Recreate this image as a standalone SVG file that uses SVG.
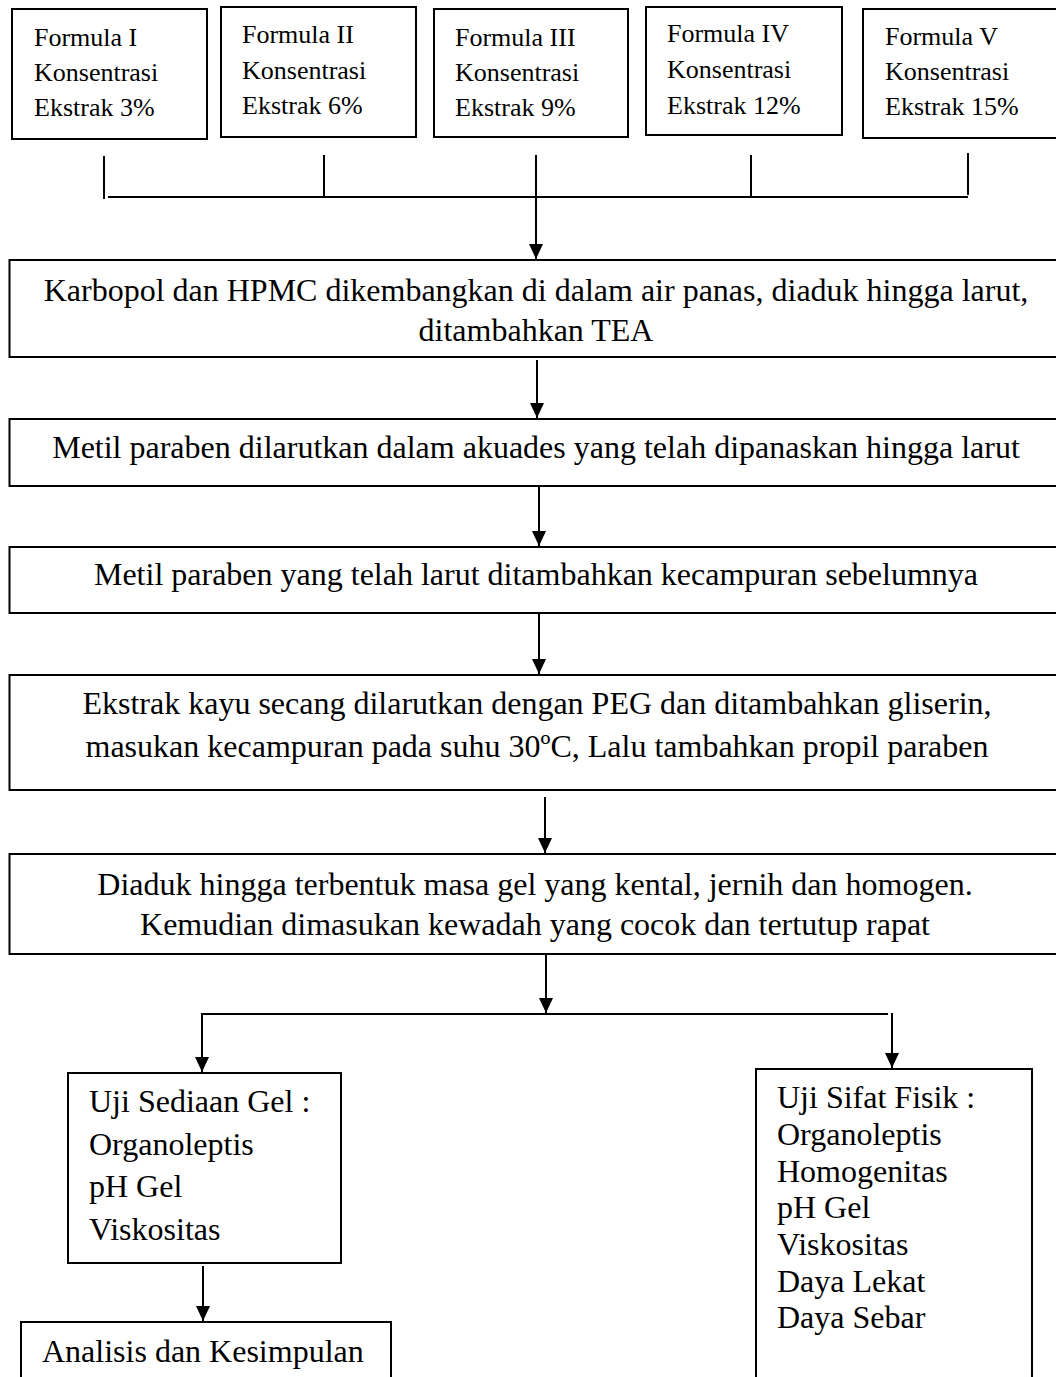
<svg xmlns="http://www.w3.org/2000/svg" width="1056" height="1377" viewBox="0 0 1056 1377">
<defs>
<marker id="arr" markerUnits="userSpaceOnUse" markerWidth="15" markerHeight="14" viewBox="0 0 15 14" refX="15" refY="7" orient="auto">
<path d="M0,0 L15,7 L0,14 z" fill="#000"/>
</marker>
<style>
.box{fill:#fff;stroke:#000;stroke-width:2}
.ln{fill:none;stroke:#000;stroke-width:2}
.ar{fill:none;stroke:#000;stroke-width:2;marker-end:url(#arr)}
.s{font-family:"Liberation Serif","Times New Roman",serif;font-size:26px;fill:#000}
.t{font-family:"Liberation Serif","Times New Roman",serif;font-size:32px;fill:#000}
.c{text-anchor:middle}
</style>
</defs>
<rect width="1056" height="1377" fill="#fff"/>

<g id="f1"><rect class="box" x="12" y="9" width="195" height="130"/>
<text class="s" x="34" y="46">Formula I</text><text class="s" x="34" y="81">Konsentrasi</text><text class="s" x="34" y="116">Ekstrak 3%</text></g>
<g id="f2"><rect class="box" x="221" y="7" width="195" height="130"/>
<text class="s" x="242" y="43">Formula II</text><text class="s" x="242" y="79">Konsentrasi</text><text class="s" x="242" y="114">Ekstrak 6%</text></g>
<g id="f3"><rect class="box" x="434" y="9" width="194" height="128"/>
<text class="s" x="455" y="46">Formula III</text><text class="s" x="455" y="81">Konsentrasi</text><text class="s" x="455" y="116">Ekstrak 9%</text></g>
<g id="f4"><rect class="box" x="646" y="7" width="196" height="128"/>
<text class="s" x="667" y="42">Formula IV</text><text class="s" x="667" y="78">Konsentrasi</text><text class="s" x="667" y="114">Ekstrak 12%</text></g>
<g id="f5"><rect class="box" x="863" y="9" width="210" height="129"/>
<text class="s" x="885" y="45">Formula V</text><text class="s" x="885" y="80">Konsentrasi</text><text class="s" x="885" y="115">Ekstrak 15%</text></g>

<g id="n1"><rect class="box" x="9.5" y="260" width="1070" height="97"/>
<text class="t c" x="536" y="301">Karbopol dan HPMC dikembangkan di dalam air panas, diaduk hingga larut,</text>
<text class="t c" x="536" y="341">ditambahkan TEA</text></g>
<g id="n2"><rect class="box" x="9.5" y="419" width="1070" height="67"/>
<text class="t c" x="536" y="458">Metil paraben dilarutkan dalam akuades yang telah dipanaskan hingga larut</text></g>
<g id="n3"><rect class="box" x="9.5" y="547" width="1070" height="66"/>
<text class="t c" x="536" y="585">Metil paraben yang telah larut ditambahkan kecampuran sebelumnya</text></g>
<g id="n4"><rect class="box" x="9.5" y="675" width="1070" height="115"/>
<text class="t c" x="537" y="714">Ekstrak kayu secang dilarutkan dengan PEG dan ditambahkan gliserin,</text>
<text class="t c" x="537" y="757">masukan kecampuran pada suhu 30ºC, Lalu tambahkan propil paraben</text></g>
<g id="n5"><rect class="box" x="9.5" y="854" width="1070" height="100"/>
<text class="t c" x="535" y="895">Diaduk hingga terbentuk masa gel yang kental, jernih dan homogen.</text>
<text class="t c" x="535" y="935">Kemudian dimasukan kewadah yang cocok dan tertutup rapat</text></g>

<g id="n6"><rect class="box" x="68" y="1073" width="273" height="190"/>
<text class="t" x="89" y="1112">Uji Sediaan Gel :</text>
<text class="t" x="89" y="1155">Organoleptis</text>
<text class="t" x="89" y="1197">pH Gel</text>
<text class="t" x="89" y="1240">Viskositas</text></g>
<g id="n7"><rect class="box" x="21" y="1322" width="370" height="100"/>
<text class="t" x="42" y="1362">Analisis dan Kesimpulan</text></g>
<g id="n8"><rect class="box" x="756" y="1069" width="276" height="360"/>
<text class="t" x="777" y="1108">Uji Sifat Fisik :</text>
<text class="t" x="777" y="1145">Organoleptis</text>
<text class="t" x="777" y="1182">Homogenitas</text>
<text class="t" x="777" y="1218">pH Gel</text>
<text class="t" x="777" y="1255">Viskositas</text>
<text class="t" x="777" y="1292">Daya Lekat</text>
<text class="t" x="777" y="1328">Daya Sebar</text></g>

<g id="connectors">
<line class="ln" x1="104" y1="156" x2="104" y2="199"/>
<line class="ln" x1="108" y1="197" x2="968" y2="197"/>
<line class="ln" x1="324" y1="155" x2="324" y2="197"/>
<line class="ln" x1="751" y1="155" x2="751" y2="197"/>
<line class="ln" x1="968" y1="153" x2="968" y2="195"/>
<line class="ar" x1="536" y1="155" x2="536" y2="259"/>
<line class="ar" x1="537" y1="360" x2="537" y2="418"/>
<line class="ar" x1="539" y1="487" x2="539" y2="546"/>
<line class="ar" x1="539" y1="614" x2="539" y2="674"/>
<line class="ar" x1="545" y1="797" x2="545" y2="853"/>
<line class="ar" x1="546" y1="955" x2="546" y2="1013"/>
<polyline class="ln" points="888,1014 202,1014 202,1040"/>
<line class="ar" x1="202" y1="1014" x2="202" y2="1072"/>
<line class="ar" x1="892" y1="1013" x2="892" y2="1068"/>
<line class="ar" x1="203" y1="1266" x2="203" y2="1321"/>
</g>
</svg>
